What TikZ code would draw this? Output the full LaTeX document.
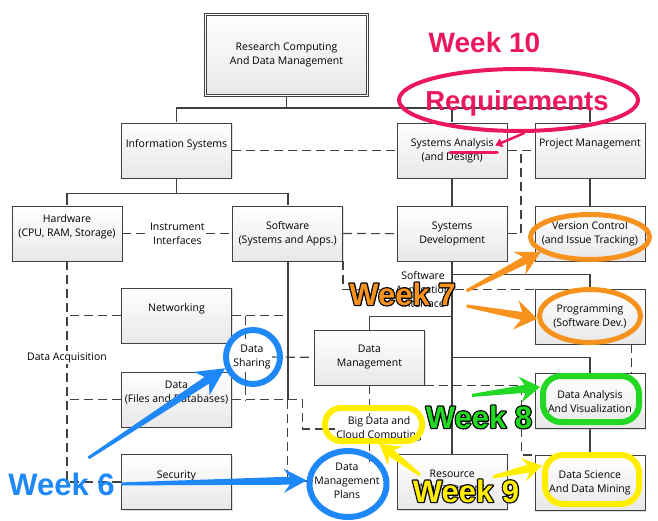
\documentclass[tikz,border=0pt]{standalone}
\usepackage{fontspec}
\usetikzlibrary{shapes.geometric, arrows.meta, positioning, shadows, calc, backgrounds}
\newfontfamily\diafont{Open Sans}
\newfontfamily\wkfont{Liberation Sans}
\newfontfamily\wkstroke{Liberation Sans Bold}[FakeBold=8]
\definecolor{linegray}{RGB}{64,64,64}
\definecolor{wkpink}{RGB}{236,24,92}
\definecolor{wkorange}{RGB}{247,146,30}
\definecolor{wkgreen}{RGB}{34,216,34}
\definecolor{wkyellow}{RGB}{255,238,0}
\definecolor{wkblue}{RGB}{30,136,248}
\tikzset{
    box/.style={draw=linegray, rectangle, line width=0.7pt, top color=white, bottom color=black!9, minimum width=110pt, minimum height=55pt, align=center, inner sep=2pt, font=\diafont\fontsize{10.5}{14}\selectfont, drop shadow={shadow xshift=1.2pt, shadow yshift=-1.2pt, opacity=0.25}},
    upper/.style={text depth=15pt},
    rootbox/.style={box, double, double distance=1.5pt, minimum width=162pt, minimum height=81pt},
    lbl/.style={fill=white, inner sep=1pt, align=center, font=\diafont\fontsize{10.5}{14}\selectfont},
    link/.style={draw=linegray, line width=1.6pt},
    assoc/.style={draw=linegray, line width=1.2pt, dash pattern=on 9pt off 5pt},
    ring/.style={draw, line width=5pt, inner sep=0pt},
    week/.style={anchor=base, font=\wkfont\bfseries\fontsize{31}{31}\selectfont},
    weekrim/.style={anchor=base, text=black, line join=round, font=\wkstroke\fontsize{31}{31}\selectfont}
}
\newcommand{\fatarrow}[6]{%
  \fill[#1] ($(#2)!1.5pt!90:(#3)$)
    -- ($(#3)!#4!(#2)!4pt!-90:(#2)$)
    -- ($(#3)!#5!(#2)!#6!-90:(#2)$)
    -- (#3)
    -- ($(#3)!#5!(#2)!#6!90:(#2)$)
    -- ($(#3)!#4!(#2)!4pt!90:(#2)$)
    -- ($(#2)!1.5pt!-90:(#3)$) -- cycle;}

\begin{document}
\begin{tikzpicture}[x=1pt, y=-1pt, node distance=27pt and 110pt]
    \useasboundingbox (0,0) rectangle (658,521);

    \node [rootbox] (root) at (286.5,55) {Research Computing\\And Data Management};
    \node [box, upper] (is) at (176.5,150.5) {Information Systems};
    \node [box, right=165pt of is] (sa) {Systems Analysis\\(and Design)};
    \node [box, upper, right=27pt of sa] (pm) {Project Management};
    \node [box, upper] (hw) at (67,233.5) {Hardware\\(CPU, RAM, Storage)};
    \node [box, right=110pt of hw] (sw) {Software\\(Systems and Apps.)};
    \node [box, below=27.5pt of sa] (sd) {Systems\\Development};
    \node [box, below=27.5pt of pm] (vc) {Version Control\\(and Issue Tracking)};
    \node [box, upper] (net) at (176.5,315.5) {Networking};
    \node [box, below=27pt of vc] (prog) {Programming\\(Software Dev.)};
    \node [box] (dm) at (369.5,357.5) {Data\\Management};
    \node [box, upper, below=28.5pt of net] (data) {Data\\(Files and Databases)};
    \node [box, below=29pt of prog] (dav) {Data Analysis\\And Visualization};
    \node [box, upper, below=26.5pt of data] (sec) {Security};
    \node [box] (res) at (sd |- sec) {Resource\\Management};
    \node [box, below=26pt of dav] (dsm) {Data Science\\And Data Mining};

    \node [lbl] (ii) at ($(hw.east)!.5!(sw.west)$) {Instrument\\Interfaces};
    \node [lbl] (da) at (hw.south |- dm.west) {Data Acquisition};
    \node [lbl] (dsh) at (252,357) {Data\\Sharing};
    \node [lbl] (sai) at (423,289.5) {Software\\Application\\Interface};
    \node [lbl] (bd) at (379,429) {Big Data and\\Cloud Computing};
    \node [lbl] (dmp) at (347,481) {Data\\Management\\Plans};

    \begin{scope}[on background layer]
        \coordinate (bus0) at ($(root.south)+(0,12)$);
        \coordinate (bus1) at ($(is.south)+(0,15)$);
        \draw [link] (root.south) -- (bus0);
        \draw [link] (is.north) |- (bus0) -| (pm.north);
        \draw [link] (bus0 -| sa.north) -- (sa.north);
        \draw [link] (is.south) -- (bus1);
        \draw [link] (hw.north) |- (bus1) -| (sw.north);
        \draw [link] (sa) -- (sd);
        \draw [link] (pm) -- (vc);
        \draw [link] (sd.south) -- (res.north);
        \draw [link] ($(sd.south)+(0,13)$) -| (prog.north);
        \draw [link] ($(sd.south)+(0,55)$) -| (dm.north);
        \draw [link] ($(sd.south)+(0,96)$) -| (dav.north);
        \draw [link] (dav) -- (dsm);
        \draw [link] (sw.south) -- (sw.south |- data.east);

        \draw [assoc] (is) -- (sa);
        \draw [assoc] (sa) -- (pm);
        \draw [assoc] (sd.east) -| ($(sa.east)!.5!(pm.west)$);
        \draw [assoc] (hw) -- (sw);
        \draw [assoc] (sw) -- (sd);
        \draw [assoc] (sw.south east) |- ([yshift=-1pt]prog.north west);
        \draw [assoc] (hw.south) |- (sec.west);
        \draw [assoc] (net.west) -- (net.west -| hw.south);
        \draw [assoc] (data.west) -- (data.west -| hw.south);
        \draw [assoc] (net.east) -- (net.east -| sw.south);
        \draw [assoc] ($(net.east)+(14,0)$) -- ($(data.east)+(14,0)$);
        \draw [assoc] (dsh) -- (dm);
        \draw [assoc] (data.east) -- ++(71,0) |- (bd.west);
        \draw [assoc] (sw.south |- data.east) |- (dmp.west);
        \draw [assoc] (dm.south) -- (dm.south |- bd.north);
        \draw [assoc] (dm.south |- bd.south) -- (dm.south |- dmp.north);
        \draw [assoc] (dm.south east) -- ++(97,0) |- (dsm.north west);
        \draw [assoc] ([xshift=41.5pt]prog.south) -- ([xshift=41.5pt]dav.north);
    \end{scope}

    \node [ring, draw=wkpink, ellipse, line width=4pt, minimum width=239pt, minimum height=62pt] (reqring) at (518.5,100) {};
    \node [ring, draw=wkorange, ellipse, minimum width=119pt, minimum height=45pt] (vcring) at (590,237) {};
    \node [ring, draw=wkorange, ellipse, minimum width=101pt, minimum height=53pt] (progring) at (590,316) {};
    \node [ring, draw=wkgreen, rectangle, rounded corners=18pt, line width=6pt, minimum width=96pt, minimum height=46pt] (davring) at (591,399) {};
    \node [ring, draw=wkyellow, rectangle, rounded corners=16pt, line width=6pt, minimum width=97pt, minimum height=33pt] (bdring) at (373.5,424.5) {};
    \node [ring, draw=wkyellow, rectangle, rounded corners=18pt, line width=6pt, minimum width=94pt, minimum height=49pt] (dsmring) at (592,479.5) {};
    \node [ring, draw=wkblue, circle, line width=6pt, minimum size=54pt] (dshring) at (253,357) {};
    \node [ring, draw=wkblue, ellipse, line width=6pt, minimum width=77pt, minimum height=66pt] (dmpring) at (348,484) {};

    \node [week, text=wkpink, font=\wkfont\bfseries\fontsize{28}{28}\selectfont] (wk10) at (484.5,53) {Week 10};
    \node [week, text=wkpink, font=\wkfont\bfseries\fontsize{27.5}{27.5}\selectfont] (req) at (517,110.5) {Requirements};
    \node [weekrim] (wk7rim) at (402.5,305) {Week 7};
    \node [week, text=wkorange] (wk7) at (402.5,305) {Week 7};
    \node [weekrim] (wk8rim) at (479,428) {Week 8};
    \node [week, text=wkgreen] (wk8) at (479,428) {Week 8};
    \node [weekrim] (wk9rim) at (466,502) {Week 9};
    \node [week, text=wkyellow] (wk9) at (466,502) {Week 9};
    \node [week, text=wkblue] (wk6) at (61.5,495) {Week 6};

    \coordinate (satip) at ($(sa.center)+(43,-5)$);
    \coordinate (t6a) at ($(wk6.center)+(27,-26)$);
    \coordinate (t6b) at ($(wk6.east)+(3,0)$);
    \coordinate (t7a) at ($(wk7.center)+(64,-3)$);
    \coordinate (t7b) at ($(wk7.center)+(64,12)$);
    \coordinate (t8) at ($(wk8.center)+(-7,-21.5)$);
    \coordinate (t9a) at ($(wk9.center)+(-46,-16)$);
    \coordinate (t9b) at ($(wk9.center)+(27,-14)$);
    \coordinate (h8) at ([yshift=12pt]davring.west);
    \coordinate (h9a) at ([xshift=6pt]bdring.south);
    \coordinate (h9b) at ([yshift=14pt]dsmring.west);

    \draw [wkpink, line width=2.5pt, -{Triangle[length=7pt, width=9pt]}] ([xshift=6pt]reqring.south) -- (satip);
    \draw [wkpink, line width=3.5pt, line cap=round] ($(sa.center)+(-2,2)$) -- ($(sa.center)+(45,2)$);
    \fatarrow{wkorange}{t7a}{vcring.197}{18pt}{24pt}{13pt}
    \fatarrow{wkorange}{t7b}{progring.183}{16pt}{22pt}{15pt}
    \fatarrow{wkgreen}{t8}{h8}{15pt}{20pt}{13pt}
    \fatarrow{wkyellow}{t9a}{h9a}{15pt}{20pt}{12pt}
    \fatarrow{wkyellow}{t9b}{h9b}{14pt}{19pt}{12pt}
    \fatarrow{wkblue}{t6a}{dshring.202}{22pt}{28pt}{14pt}
    \fatarrow{wkblue}{t6b}{dmpring.175}{17pt}{23pt}{12pt}
\end{tikzpicture}
\end{document}
